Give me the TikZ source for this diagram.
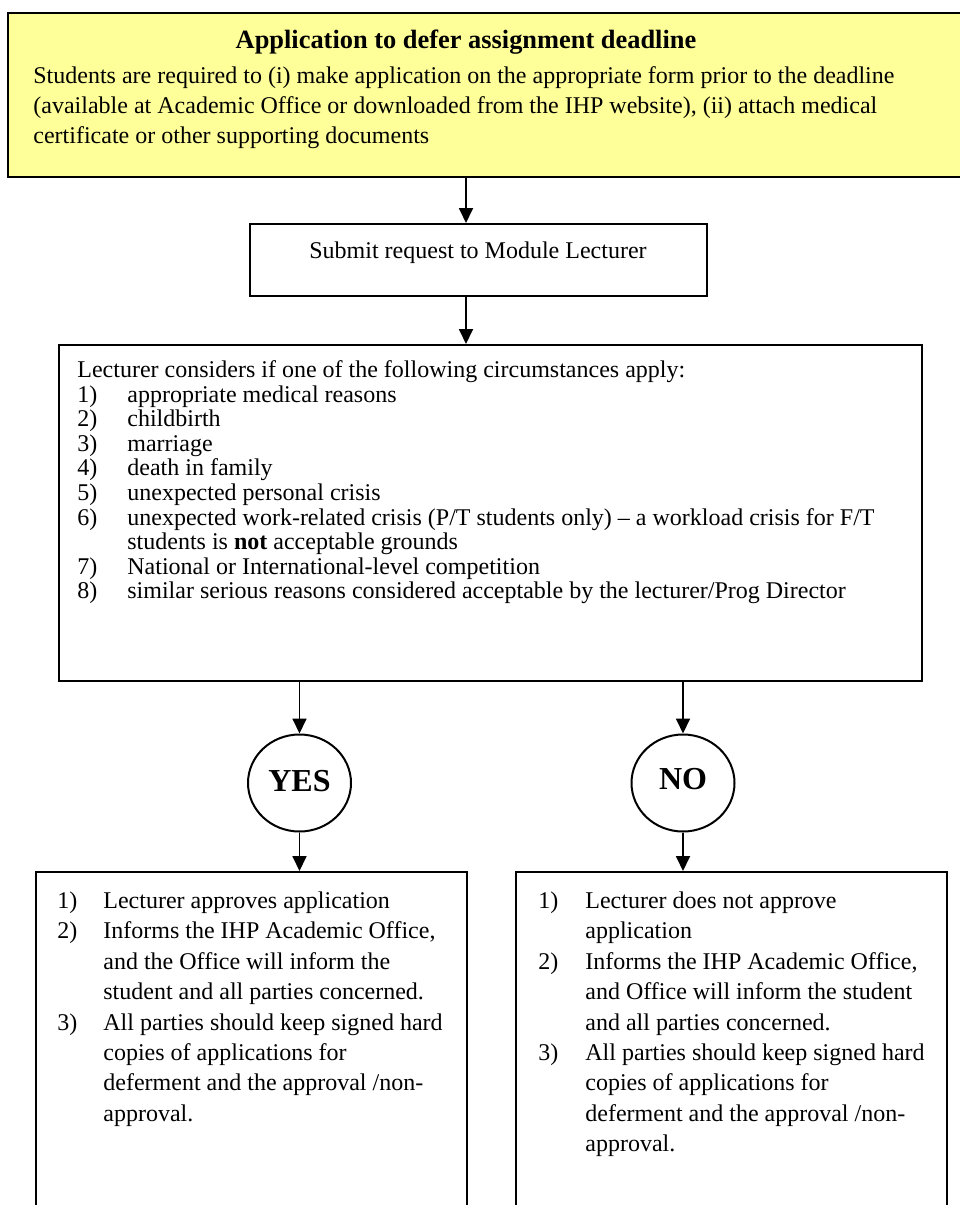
\documentclass[tikz,border=0pt]{standalone}
\usepackage{fontspec}
\setmainfont{Liberation Serif}
\usetikzlibrary{arrows.meta,shapes.geometric}

\definecolor{notice}{HTML}{FFFF99}
\newcommand{\numlbl}[2][25pt]{\makebox[#1][l]{#2}}

\begin{document}
\begin{tikzpicture}[x=0.5pt, y=-0.5pt,
  box/.style={draw, line width=1pt, inner sep=0pt, fill=white},
  headbox/.style={box, fill=notice, minimum width=486pt, minimum height=82pt},
  stepbox/.style={box, minimum width=228.5pt, minimum height=36pt},
  listbox/.style={box, minimum width=431.5pt, minimum height=168pt},
  outcome/.style={box, minimum width=215.5pt, minimum height=174pt},
  decision/.style={ellipse, draw, line width=1pt, minimum width=51.5pt, minimum height=48.5pt, inner sep=0pt, font=\fontsize{16}{16}\selectfont\bfseries},
  txt/.style={inner sep=0pt, anchor=base west, font=\fontsize{12}{15}\selectfont},
  flow/.style={line width=0.9pt, -{Triangle[length=7.5pt, width=7pt]}}
]
\useasboundingbox (0,0) rectangle (959,1205);

% boxes
\node[headbox] (topbox) at (494,95) {};
\node[stepbox] (submit) at (478.5,260) {};
\node[listbox] (bigbox) at (490.5,513) {};
\node[outcome] (leftbox) at (251.5,1046) {};
\node[outcome] (rightbox) at (731,1046) {};
\node[decision] (yes) at (299.5,783) {\raisebox{2.2pt}{YES}};
\node[decision] (no) at (683,783) {\raisebox{4pt}{NO}};

% texts
\node[txt, anchor=base, font=\fontsize{13.2}{15}\selectfont\bfseries] (title) at (466,48) {Application to defer assignment deadline};
\node[txt] (intro) at (33,83.5) {\parbox[t]{470pt}{%
  Students are required to (i) make application on the appropriate form prior to the deadline\\
  (available at Academic Office or downloaded from the IHP website), (ii) attach medical\\
  certificate or other supporting documents}};
\node[txt, anchor=base] (submittxt) at (478,258) {Submit request to Module Lecturer};
\node[txt, font=\fontsize{12}{12.3}\selectfont] (criteria) at (77,377.5) {\parbox[t]{420pt}{%
  Lecturer considers if one of the following circumstances apply:\\
  \numlbl{1)}appropriate medical reasons\\
  \numlbl{2)}childbirth\\
  \numlbl{3)}marriage\\
  \numlbl{4)}death in family\\
  \numlbl{5)}unexpected personal crisis\\
  \numlbl{6)}unexpected work-related crisis (P/T students only) -- a workload crisis for F/T\\
  \numlbl{}students is \textbf{not} acceptable grounds\\
  \numlbl{7)}National or International-level competition\\
  \numlbl{8)}similar serious reasons considered acceptable by the lecturer/Prog Director}};
\node[txt, font=\fontsize{12}{15.2}\selectfont] (approve) at (57,908.5) {\parbox[t]{210pt}{%
  \numlbl[23pt]{1)}Lecturer approves application\\
  \numlbl[23pt]{2)}Informs the IHP Academic Office,\\
  \numlbl[23pt]{}and the Office will inform the\\
  \numlbl[23pt]{}student and all parties concerned.\\
  \numlbl[23pt]{3)}All parties should keep signed hard\\
  \numlbl[23pt]{}copies of applications for\\
  \numlbl[23pt]{}deferment and the approval /non-\\
  \numlbl[23pt]{}approval.}};
\node[txt, font=\fontsize{12}{15.2}\selectfont] (reject) at (538,908.5) {\parbox[t]{210pt}{%
  \numlbl[23.5pt]{1)}Lecturer does not approve\\
  \numlbl[23.5pt]{}application\\
  \numlbl[23.5pt]{2)}Informs the IHP Academic Office,\\
  \numlbl[23.5pt]{}and Office will inform the student\\
  \numlbl[23.5pt]{}and all parties concerned.\\
  \numlbl[23.5pt]{3)}All parties should keep signed hard\\
  \numlbl[23.5pt]{}copies of applications for\\
  \numlbl[23.5pt]{}deferment and the approval /non-\\
  \numlbl[23.5pt]{}approval.}};

% connectors
\draw[flow] (title |- topbox.south) -- (title |- submit.north);
\draw[flow] (title |- submit.south) -- (title |- bigbox.north);
\draw[flow] (yes |- bigbox.south) -- (yes.north);
\draw[flow] (no |- bigbox.south) -- (no.north);
\draw[flow] (yes.south) -- (yes |- leftbox.north);
\draw[flow] (no.south) -- (no |- rightbox.north);
\end{tikzpicture}
\end{document}
